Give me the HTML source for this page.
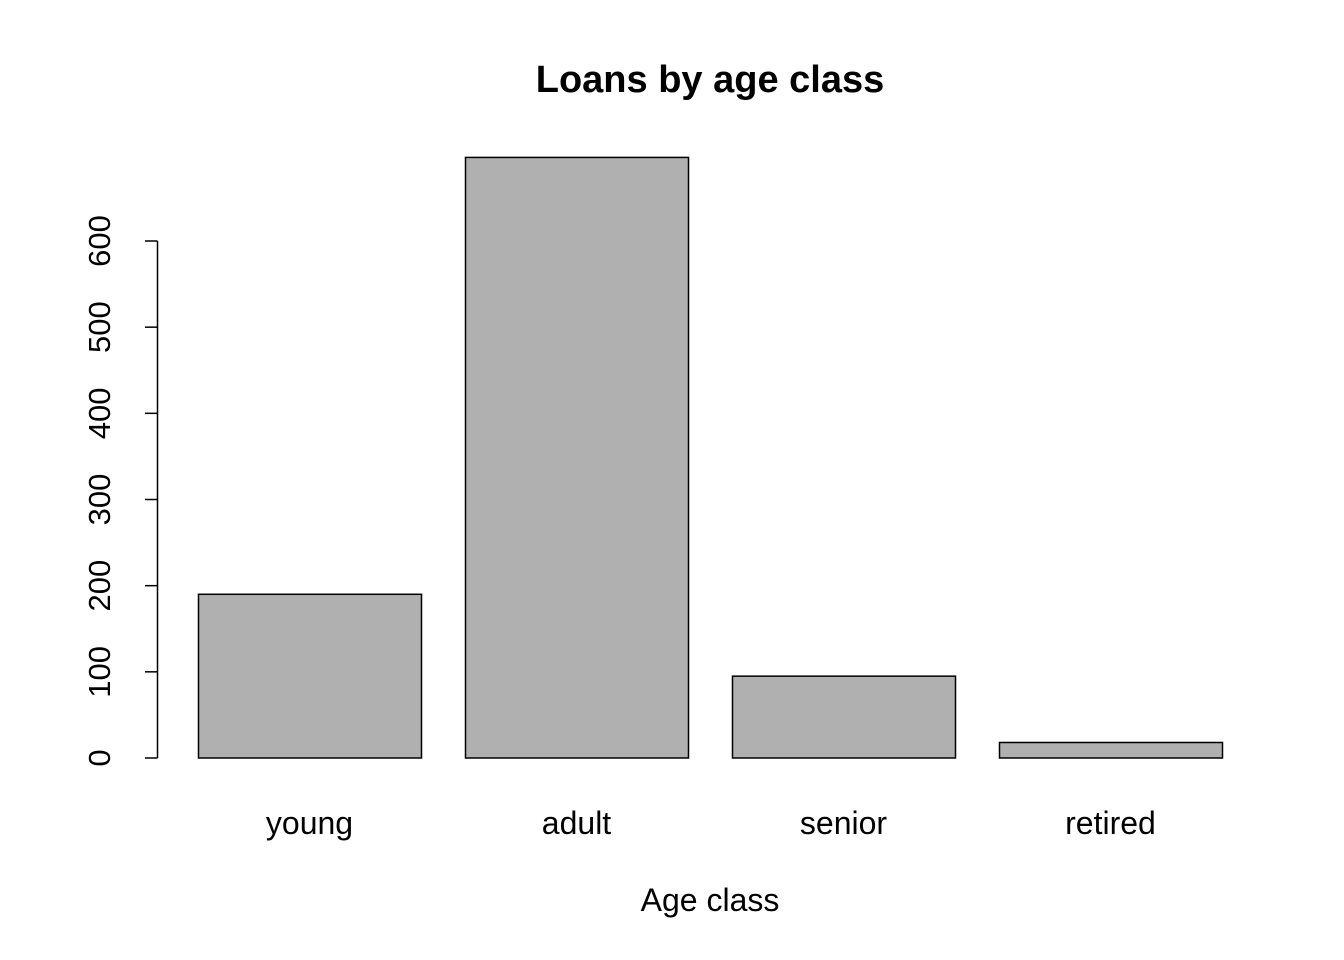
<!DOCTYPE html>
<html><head><meta charset="utf-8"><style>
html,body{margin:0;padding:0;background:#fff;}
svg{display:block;font-family:"Liberation Sans",Arial,sans-serif;}
</style></head><body>
<svg id="chart" width="1344" height="960" viewBox="0 0 1344 960">
<text x="710" y="92" text-anchor="middle" font-size="38" font-weight="bold">Loans by age class</text>
<text x="710" y="911" text-anchor="middle" font-size="32">Age class</text>
<g id="bars"></g>
<g id="yaxis"></g>
</svg>
<script>
const categories = ["young","adult","senior","retired"];
const values = [190, 697, 95, 18];
const yTicks = [0,100,200,300,400,500,600];

const NS = "http://www.w3.org/2000/svg";
function y(v){ return 758 - v*(517/600); }
function barX(i){ return 198 + i*267; }
const barW = 223;

const bars = document.getElementById("bars");
categories.forEach((c,i)=>{
  const r = document.createElementNS(NS,"rect");
  r.setAttribute("x", barX(i)+0.5);
  r.setAttribute("y", y(values[i]));
  r.setAttribute("width", barW);
  r.setAttribute("height", y(0)-y(values[i]));
  r.setAttribute("fill","#b0b0b0");
  r.setAttribute("stroke","#000");
  r.setAttribute("stroke-width","1.5");
  
  
  bars.appendChild(r);
  const t = document.createElementNS(NS,"text");
  t.setAttribute("x", barX(i)+barW/2);
  t.setAttribute("y", 834);
  t.setAttribute("text-anchor","middle");
  t.setAttribute("font-size","32");
  t.textContent = c;
  
  
  bars.appendChild(t);
});

const ya = document.getElementById("yaxis");
const line = document.createElementNS(NS,"line");
line.setAttribute("x1",157.5); line.setAttribute("x2",157.5);
line.setAttribute("y1",y(yTicks[0])); line.setAttribute("y2",y(yTicks[yTicks.length-1]));
line.setAttribute("stroke","#000"); line.setAttribute("stroke-width","1.5");


ya.appendChild(line);
yTicks.forEach(v=>{
  const tk = document.createElementNS(NS,"line");
  tk.setAttribute("x1",145); tk.setAttribute("x2",157.5);
  tk.setAttribute("y1",y(v)); tk.setAttribute("y2",y(v));
  tk.setAttribute("stroke","#000"); tk.setAttribute("stroke-width","1.5");
  
  
  ya.appendChild(tk);
  const t = document.createElementNS(NS,"text");
  t.setAttribute("x",110); t.setAttribute("y",y(v));
  t.setAttribute("text-anchor","middle");
  t.setAttribute("font-size","31");
  t.setAttribute("transform","rotate(-90 110 "+y(v)+")");
  t.textContent = v;
  
  
  ya.appendChild(t);
});
</script>
</body></html>
